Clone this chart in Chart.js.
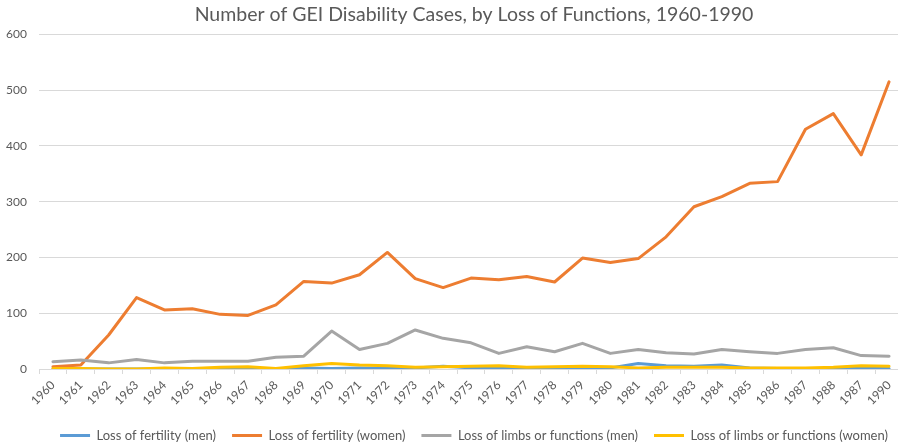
<!DOCTYPE html>
<html>
<head>
<meta charset="utf-8">
<title>GEI Disability Cases</title>
<script src="https://cdn.jsdelivr.net/npm/chart.js@4.4.0/dist/chart.umd.min.js"></script>
<style>
  html, body { margin: 0; padding: 0; background: #fff; overflow: hidden; }
  #wrap { width: 948px; height: 446px; }
</style>
</head>
<body>
<div id="wrap"><canvas id="lossChart" width="948" height="446"></canvas></div>
<script>

// the original sheet has "1987" twice (the 1989 slot), kept as in the picture
var years = ["1960", "1961", "1962", "1963", "1964", "1965", "1966", "1967", "1968", "1969",
  "1970", "1971", "1972", "1973", "1974", "1975", "1976", "1977", "1978", "1979",
  "1980", "1981", "1982", "1983", "1984", "1985", "1986", "1987", "1988", "1987", "1990"];

var fertilityMen = [0, 0, 0, 0, 0, 0, 1, 2, 0, 2,
  1, 2, 1, 2, 5, 2, 3, 1, 2, 2,
  2, 10, 6, 5, 7, 2, 1, 1, 0, 3, 1];

var fertilityWomen = [4, 7, 61, 128, 106, 108, 98, 96, 115, 157,
  154, 169, 209, 162, 146, 163, 160, 166, 156, 199,
  191, 198, 237, 291, 309, 333, 336, 430, 458, 384, 515];

var limbsMen = [13, 16, 11, 17, 11, 14, 14, 14, 21, 23,
  68, 35, 46, 70, 55, 47, 28, 40, 31, 46,
  28, 35, 29, 27, 35, 31, 28, 35, 38, 24, 23];

var limbsWomen = [1, 1, 0, 0, 2, 1, 3, 4, 1, 6,
  10, 7, 6, 3, 4, 5, 6, 3, 4, 5,
  4, 2, 3, 3, 3, 2, 2, 2, 3, 6, 5];

var seriesNames = ["Loss of fertility (men)", "Loss of fertility (women)",
  "Loss of limbs or functions (men)", "Loss of limbs or functions (women)"];
var seriesColors = ["#5B9BD5", "#ED7D31", "#A5A5A5", "#FFC000"];

var yTicks = [0, 100, 200, 300, 400, 500, 600];

function makeDataset(i, values) {

  return {
    label: seriesNames[i],
    data: values,
    borderColor: seriesColors[i],
    backgroundColor: seriesColors[i],
    borderWidth: 3,
    pointRadius: 0,
    tension: 0,
    borderJoinStyle: "round",
    borderCapStyle: "round",
    yAxisID: "y",
    // excel paints later series on top
    order: 4 - i
  };
}

function drawChart() {

  var ctx = document.getElementById("lossChart").getContext("2d");
  var font = "Lato, 'Open Sans', sans-serif";

  var chart = new Chart(ctx, {

    type: "line",

    data: {
      labels: years,
      datasets: [
        makeDataset(0, fertilityMen),
        makeDataset(1, fertilityWomen),
        makeDataset(2, limbsMen),
        makeDataset(3, limbsWomen)
      ]
    },

    options: {
      responsive: false,
      animation: false,
      layout: { padding: { left: 0, right: 0, top: 0, bottom: -6 } },
      plugins: {
        title: {
          display: true,
          text: "Number of GEI Disability Cases, by Loss of Functions, 1960-1990",
          color: "#595959",
          font: { family: font, size: 19.5, weight: "normal" },
          padding: { top: 3, bottom: 8 }
        },
        legend: {
          position: "bottom",
          labels: {
            color: "#595959",
            font: { family: font, size: 13 },
            usePointStyle: true,
            pointStyle: "line",
            pointStyleWidth: 30,
            padding: 16,
            sort: function(a, b) { return a.datasetIndex - b.datasetIndex; }
          }
        },
        tooltip: { enabled: false }
      },
      scales: {
        x: {
          offset: true,
          afterFit: function(scale) { scale.height = 44; },
          grid: {
            offset: true,
            drawOnChartArea: false,
            drawTicks: true,
            tickLength: 5,
            color: "#d9d9d9"
          },
          border: { color: "#d9d9d9" },
          ticks: {
            color: "#595959",
            font: { family: font, size: 12 },
            minRotation: 45,
            maxRotation: 45,
            autoSkip: false,
            padding: 4
          }
        },
        y: {
          min: yTicks[0],
          max: yTicks[yTicks.length - 1],
          afterFit: function(scale) { scale.width = 39; },
          grid: { color: "#d9d9d9", drawTicks: false },
          border: { display: false },
          ticks: {
            stepSize: 100,
            color: "#595959",
            font: { family: font, size: 12 },
            padding: 12
          }
        },
        // empty strip on the right: the original chart is wider than the crop
        spare: {
          type: "linear",
          position: "right",
          afterFit: function(scale) { scale.width = 45; },
          grid: { display: false },
          border: { display: false },
          ticks: { display: false }
        }
      }
    }
  });
}

function init() {

  drawChart();
}

init();
</script>
</body>
</html>
